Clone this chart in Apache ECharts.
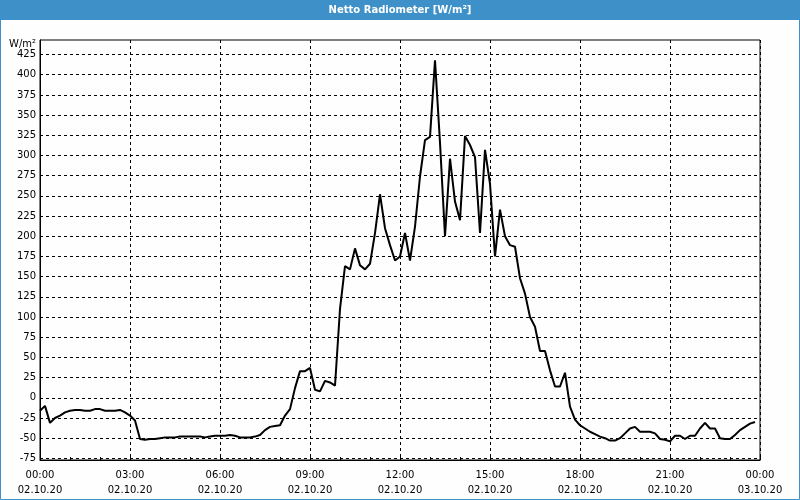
<!DOCTYPE html>
<html>
<head>
<meta charset="utf-8">
<script src="https://cdn.jsdelivr.net/npm/echarts@6/dist/echarts.min.js"></script>
<style>
html,body{margin:0;padding:0;background:#fff;}
#c{width:800px;height:500px;}
</style>
</head>
<body>
<div id="c"></div>
<script>
// Netto Radiometer, 10-minute values from 02.10.20 00:00 to 23:50 (W/m²)
const stepMinutes = 10;
const values = [
  -16, -10, -31, -25, -22, -18, -16, -15, -15, -16, -16, -14,
  -14, -16, -16, -16, -15, -18, -22, -28, -51, -52, -51, -51,
  -50, -49, -49, -49, -48, -48, -48, -48, -48, -49, -48, -47,
  -47, -47, -46, -47, -49, -49, -49, -48, -46, -40, -36, -35,
  -34, -22, -14, 12, 33, 33, 37, 10, 8, 21, 19, 15,
  110, 163, 159, 185, 164, 159, 166, 204, 252, 210, 189, 170,
  175, 204, 170, 212, 274, 319, 323, 418, 316, 200, 296, 243,
  220, 324, 313, 298, 204, 307, 265, 175, 233, 200, 189, 187,
  148, 129, 100, 88, 58, 58, 34, 14, 14, 31, -11, -27,
  -34, -38, -42, -45, -48, -50, -53, -53, -50, -44, -38, -36,
  -42, -42, -42, -44, -51, -52, -54, -47, -47, -51, -47, -47,
  -38, -31, -38, -38, -50, -51, -51, -46, -40, -36, -32, -30
];
const yTicks = [-75, -50, -25, 0, 25, 50, 75, 100, 125, 150, 175, 200, 225, 250, 275, 300, 325, 350, 375, 400, 425];
const timeLabels = ['00:00', '03:00', '06:00', '09:00', '12:00', '15:00', '18:00', '21:00', '00:00'];
const dateLabels = ['02.10.20', '02.10.20', '02.10.20', '02.10.20', '02.10.20', '02.10.20', '02.10.20', '02.10.20', '03.10.20'];
const titleText = 'Netto Radiometer [W/m²]';
const unitText = 'W/m²';

const tickStep = 180;
const data = values.map((v, i) => [i * stepMinutes, v]);

const chart = echarts.init(document.getElementById('c'), null, {renderer: 'canvas'});
const FONT = 'DejaVu Sans';
const BLUE = '#3d91c8';

chart.setOption({
  animation: false,
  backgroundColor: '#fdfefd',
  graphic: [
    {type: 'rect', z: 0, shape: {x: 0, y: 0, width: 800, height: 20}, style: {fill: BLUE}},
    {type: 'rect', z: 0, shape: {x: 0.5, y: 0.5, width: 799, height: 499}, style: {fill: 'none', stroke: BLUE, lineWidth: 1}}
  ],
  title: {
    text: titleText,
    left: 'center',
    top: 4,
    padding: 0,
    textStyle: {color: '#fff', fontSize: 10, fontWeight: 'bold', fontFamily: FONT, lineHeight: 13}
  },
  grid: {
    left: 40, right: 40, top: 40, bottom: 40,
    show: true, borderColor: '#000', borderWidth: 1, backgroundColor: 'transparent',
    containLabel: false
  },
  xAxis: {
    type: 'value',
    min: 0,
    max: 1440,
    interval: tickStep,
    axisLine: {show: true, onZero: false, lineStyle: {color: '#000', width: 1}},
    axisTick: {show: true, inside: true, length: 3, lineStyle: {color: '#000'}},
    minorTick: {show: true, splitNumber: 3, length: 3, lineStyle: {color: '#000'}},
    splitLine: {show: true, lineStyle: {color: '#000', type: [3, 3], width: 1}},
    axisLabel: {
      color: '#000', fontFamily: FONT, fontSize: 10, lineHeight: 15, margin: 8,
      formatter: function (v) {
        const i = Math.round(v / tickStep);
        return timeLabels[i] + '\n' + dateLabels[i];
      }
    }
  },
  yAxis: {
    type: 'value',
    min: -77,
    max: 443,
    name: unitText,
    nameLocation: 'end',
    nameGap: -6,
    nameTextStyle: {color: '#000', fontFamily: FONT, fontSize: 10, align: 'right', verticalAlign: 'middle', padding: [0, 4, 0, 0]},
    axisLine: {show: true, onZero: false, lineStyle: {color: '#000', width: 1}},
    axisTick: {show: false, customValues: yTicks},
    splitLine: {show: true, lineStyle: {color: '#000', type: [3, 3], width: 1}},
    axisLabel: {
      customValues: yTicks,
      color: '#000', fontFamily: FONT, fontSize: 10, margin: 4, padding: [3, 0, 0, 0]
    }
  },
  series: [{
    type: 'line',
    data: data,
    showSymbol: false,
    symbol: 'none',
    lineStyle: {color: '#000', width: 2},
    z: 3
  }]
});
</script>
</body>
</html>
